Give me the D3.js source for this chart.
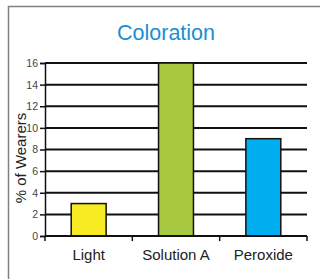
<!DOCTYPE html>
<html>
<head>
<meta charset="utf-8">
<script src="https://cdn.jsdelivr.net/npm/d3@7"></script>
<style>
  body { margin: 0; background: #fff; }
  svg { display: block; font-family: "Liberation Sans", Arial, sans-serif; }
</style>
</head>
<body>
<div id="chart"></div>
<script>
var categories = ["Light", "Solution A", "Peroxide"];
var values = [3, 16, 9];
var colors = ["#f7ec23", "#a7c83f", "#00aeef"];
var yTicks = [0, 2, 4, 6, 8, 10, 12, 14, 16];

var svgWidth = 320;
var svgHeight = 279;

var svg = d3.select("#chart")
    .append("svg")
    .attr("width", svgWidth)
    .attr("height", svgHeight);

// frame (right and bottom edges run off the picture)
svg.append("rect")
    .attr("x", 8.5)
    .attr("y", 6.5)
    .attr("width", 330)
    .attr("height", 300)
    .attr("fill", "none")
    .attr("stroke", "#808080")
    .attr("stroke-width", 1.5);

var x = d3.scaleBand()
    .domain(categories)
    .range([45, 307])
    .padding(0);

var y = d3.scaleLinear()
    .domain([0, 16])
    .range([236, 63]);

// title
svg.append("text")
    .attr("x", 166)
    .attr("y", 40)
    .attr("text-anchor", "middle")
    .attr("fill", "#1b8fd2")
    .style("font-size", "21.5px")
    .text("Coloration");

// gridlines
svg.append("g")
    .selectAll("line")
    .data(yTicks.slice(1))
    .enter()
    .append("line")
    .attr("x1", 45)
    .attr("x2", 307)
    .attr("y1", d => y(d))
    .attr("y2", d => y(d))
    .attr("stroke", "#111")
    .attr("stroke-width", 2);

// y axis
var yAxis = svg.append("g")
    .attr("transform", "translate(45,0)")
    .call(d3.axisLeft(y).tickValues(yTicks).tickSize(5).tickPadding(2));
yAxis.select(".domain").attr("stroke", "#111").attr("stroke-width", 1.5);
yAxis.selectAll(".tick line").attr("stroke", "#111").attr("stroke-width", 1.5);
yAxis.selectAll("text")
    .attr("fill", "#444")
    .style("font-size", "10.5px")
    .style("font-family", "Liberation Sans, Arial, sans-serif");

// bars
svg.append("g")
    .selectAll("rect")
    .data(values)
    .enter()
    .append("rect")
    .attr("x", (d, i) => x(categories[i]) + x.bandwidth() * 0.3)
    .attr("width", x.bandwidth() * 0.4)
    .attr("y", d => y(d))
    .attr("height", d => y(0) - y(d))
    .attr("fill", (d, i) => colors[i])
    .attr("stroke", "#111")
    .attr("stroke-width", 1.5);

// x axis
var xAxis = svg.append("g")
    .attr("transform", "translate(0,236)");
xAxis.append("line")
    .attr("x1", 45)
    .attr("x2", 307)
    .attr("stroke", "#111")
    .attr("stroke-width", 2);
xAxis.selectAll(".sep")
    .data(categories.concat([null]))
    .enter()
    .append("line")
    .attr("class", "sep")
    .attr("x1", d => d === null ? 307 : x(d))
    .attr("x2", d => d === null ? 307 : x(d))
    .attr("y1", 0)
    .attr("y2", 5)
    .attr("stroke", "#111")
    .attr("stroke-width", 1.5);
xAxis.selectAll(".lbl")
    .data(categories)
    .enter()
    .append("text")
    .attr("class", "lbl")
    .attr("x", d => x(d) + x.bandwidth() / 2)
    .attr("y", 24)
    .attr("text-anchor", "middle")
    .attr("fill", "#222")
    .style("font-size", "15px")
    .text(d => d);

// y label
svg.append("text")
    .attr("transform", "translate(26,158) rotate(-90)")
    .attr("text-anchor", "middle")
    .attr("fill", "#222")
    .style("font-size", "15px")
    .text("% of Wearers");
</script>
</body>
</html>
